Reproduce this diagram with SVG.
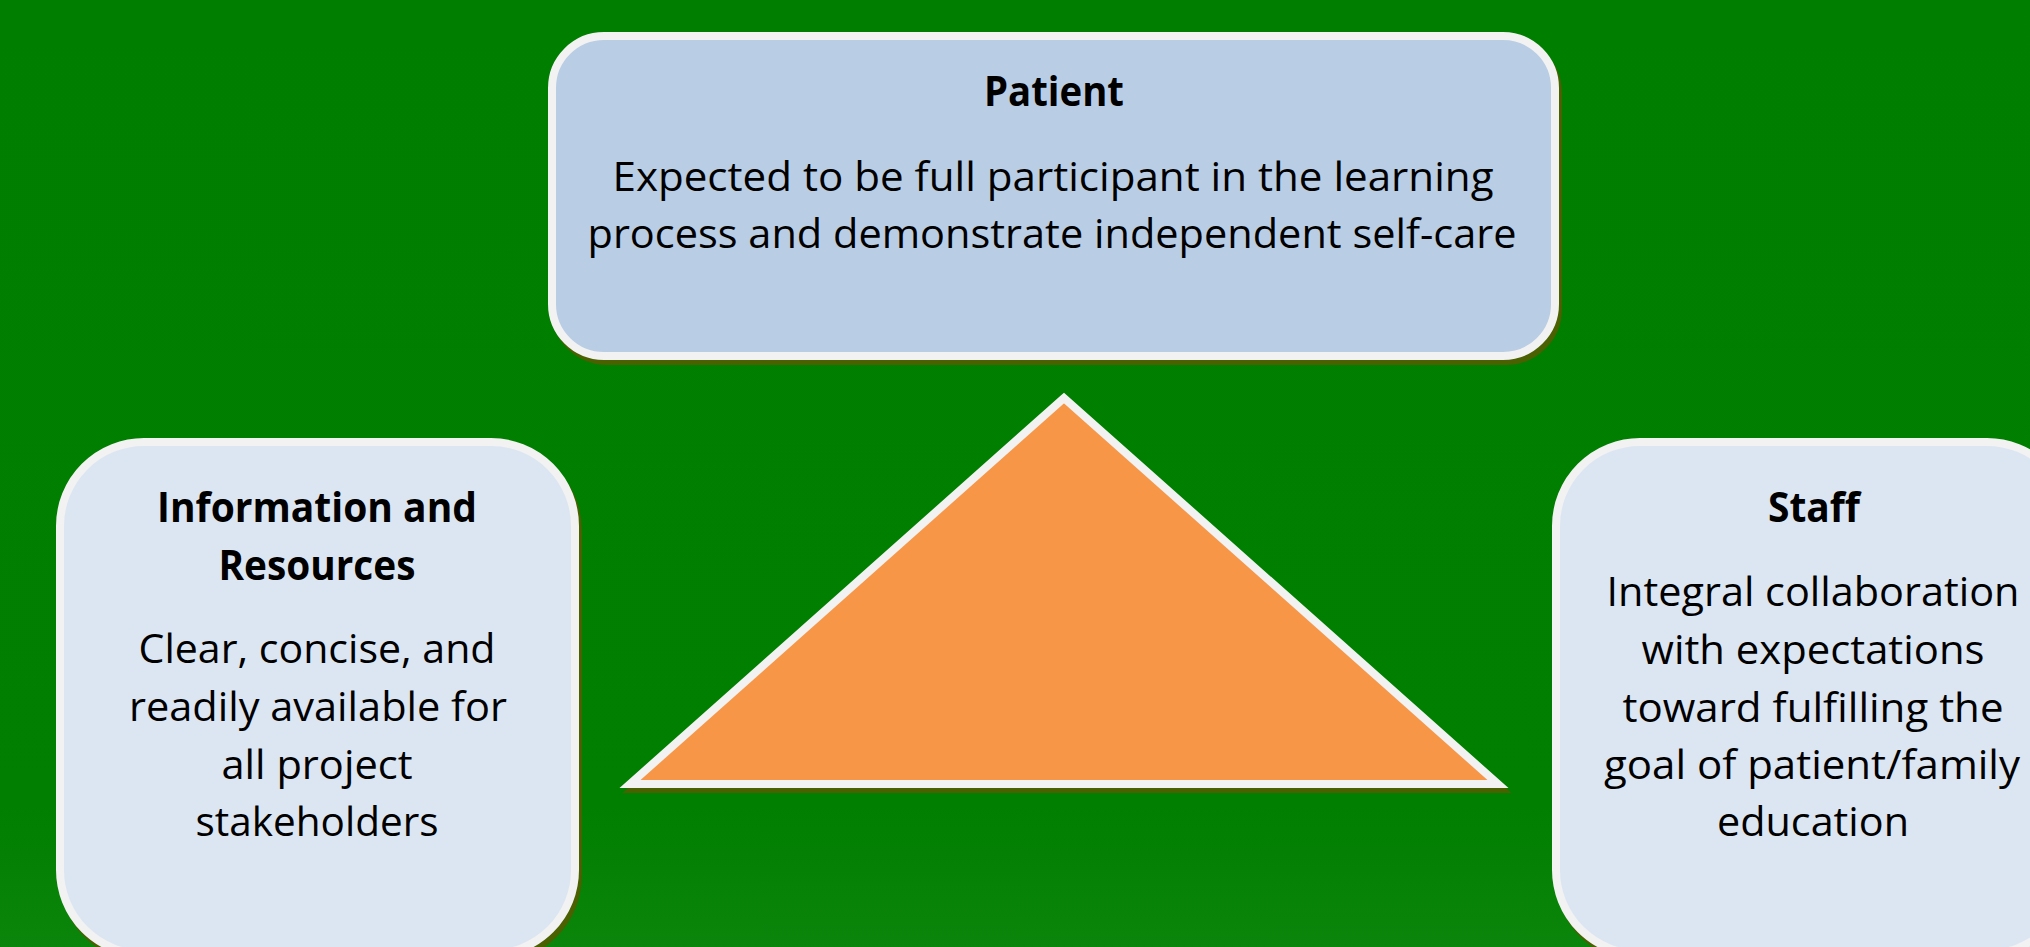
<svg xmlns="http://www.w3.org/2000/svg" width="2030" height="947" viewBox="0 0 2030 947">
  <defs>
    <linearGradient id="bg" x1="0" y1="0" x2="0" y2="1">
      <stop offset="0" stop-color="#007e00"/>
      <stop offset="0.85" stop-color="#007f00"/>
      <stop offset="1" stop-color="#0b850b"/>
    </linearGradient>
  </defs>
  <style>
    .shadow { fill: #4b6000; stroke: #4b6000; stroke-width: 8; }
    .box { stroke: #f2f2f2; stroke-width: 8; }
    .top { fill: #b9cde5; }
    .side { fill: #dce6f2; }
    .tri { fill: #f79646; stroke: #f2f2f2; stroke-width: 8; stroke-linejoin: miter; }
    text { font-family: "Open Sans", "Noto Sans", "Liberation Sans", sans-serif; font-size: 41px; fill: #000; text-anchor: middle; }
    .b { font-weight: bold; }
  </style>
  <rect x="0" y="0" width="2030" height="947" fill="url(#bg)"/>

  <g id="connectors"></g>

  <g id="patient">
    <rect class="shadow" x="555" y="41" width="1003" height="320" rx="52"/>
    <rect class="box top" x="552" y="36" width="1003" height="320" rx="52"/>
    <text class="b" x="1054" y="106" textLength="140" lengthAdjust="spacingAndGlyphs">Patient</text>
    <text x="1053" y="191" textLength="881" lengthAdjust="spacingAndGlyphs">Expected to be full participant in the learning</text>
    <text x="1052" y="248" textLength="929" lengthAdjust="spacingAndGlyphs">process and demonstrate independent self-care</text>
  </g>

  <g id="triangle">
    <path class="shadow" d="M1067,403 L633,789 L1501,789 Z" stroke-linejoin="miter"/>
    <path class="tri" d="M1064,398 L630,784 L1498,784 Z"/>
  </g>

  <g id="information">
    <rect class="shadow" x="63" y="447" width="515" height="512" rx="84"/>
    <rect class="box side" x="60" y="442" width="515" height="512" rx="84"/>
    <text class="b" x="317" y="522" textLength="320" lengthAdjust="spacingAndGlyphs">Information and</text>
    <text class="b" x="317" y="580" textLength="197" lengthAdjust="spacingAndGlyphs">Resources</text>
    <text x="317" y="663" textLength="357" lengthAdjust="spacingAndGlyphs">Clear, concise, and</text>
    <text x="318" y="721" textLength="378" lengthAdjust="spacingAndGlyphs">readily available for</text>
    <text x="317" y="779" textLength="191" lengthAdjust="spacingAndGlyphs">all project</text>
    <text x="317" y="836" textLength="243" lengthAdjust="spacingAndGlyphs">stakeholders</text>
  </g>

  <g id="staff">
    <rect class="shadow" x="1559" y="447" width="515" height="512" rx="84"/>
    <rect class="box side" x="1556" y="442" width="515" height="512" rx="84"/>
    <text class="b" x="1814" y="522" textLength="92" lengthAdjust="spacingAndGlyphs">Staff</text>
    <text x="1813" y="606" textLength="413" lengthAdjust="spacingAndGlyphs">Integral collaboration</text>
    <text x="1813" y="664" textLength="343" lengthAdjust="spacingAndGlyphs">with expectations</text>
    <text x="1813" y="722" textLength="381" lengthAdjust="spacingAndGlyphs">toward fulfilling the</text>
    <text x="1812" y="779" textLength="416" lengthAdjust="spacingAndGlyphs">goal of patient/family</text>
    <text x="1813" y="836" textLength="192" lengthAdjust="spacingAndGlyphs">education</text>
  </g>
</svg>
